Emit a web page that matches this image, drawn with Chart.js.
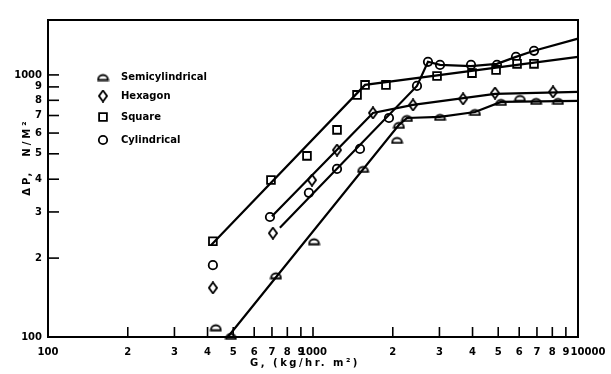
<!DOCTYPE html>
<html><head><meta charset="utf-8">
<script src="https://cdn.jsdelivr.net/npm/chart.js@4.4.0/dist/chart.umd.min.js"></script>
<style>html,body{margin:0;padding:0;background:#fff}</style>
</head><body>
<canvas id="c" width="611" height="374"></canvas>
<script>
// ---- data ----
const xTickValues = [100,200,300,400,500,600,700,800,900,1000,2000,3000,4000,5000,6000,7000,8000,9000,10000];
const xTickLabels = ['100','2','3','4','5','6','7','8','9','1000','2','3','4','5','6','7','8','9','\u2003\u200310000'];
const yTickValues = [100,200,300,400,500,600,700,800,900,1000];
const yTickLabels = ['100','2','3','4','5','6','7','8','9','1000'];
const seriesNames = ['Semicylindrical','Hexagon','Square','Cylindrical'];
const xTitle = 'G, (kg/hr. m\u00B2)';
const yTitle = '\u0394P,  N/M\u00B2';

// measured points
const semiX = [430, 490, 725, 1009, 1545, 2075, 2111, 2263, 3015, 4086, 5120, 6039, 6950, 8404];
const semiY = [109, 101, 172, 232, 438, 565, 645, 685, 692, 722, 789, 817, 796, 796];
const hexX  = [419, 706, 991, 1232, 1684, 2385, 3684, 4863, 8050];
const hexY  = [154, 249, 397, 517, 716, 768, 810, 853, 861];
const sqX   = [419, 694, 949, 1232, 1466, 1572, 1885, 2938, 3981, 4907, 5888, 6823];
const sqY   = [232, 397, 491, 617, 839, 916, 916, 990, 1016, 1045, 1102, 1102];
const cylX  = [419, 688, 965, 1232, 1504, 1935, 2468, 2716, 3015, 3947, 4945, 5834, 6823];
const cylY  = [188, 287, 355, 438, 522, 685, 908, 1122, 1092, 1092, 1092, 1172, 1236];

// drawn fit lines
const semiLineX = [477, 2111, 2263, 3015, 4086, 5120, 10000];
const semiLineY = [100, 645, 685, 692, 722, 789, 796];
const hexLineX  = [700, 1684, 2385, 4863, 10000];
const hexLineY  = [289, 716, 768, 846, 861];
const sqLineX   = [412, 1572, 10000];
const sqLineY   = [224, 916, 1172];
const cylLineX  = [750, 2468, 2716, 3015, 3947, 4945, 5834, 6823, 10000];
const cylLineY  = [261, 908, 1122, 1092, 1081, 1102, 1172, 1236, 1375];

const xMin = 100, xMax = 10000, yMin = 100, yMax = 1620;

// ---- marker shapes ----
function halfDisc(){
  const c = document.createElement('canvas'); c.width = 13; c.height = 9;
  const g = c.getContext('2d');
  g.lineWidth = 1.8; g.strokeStyle = '#000'; g.fillStyle = '#fff';
  g.beginPath(); g.moveTo(1.5,7.5); g.arc(6.5,7.5,5,Math.PI,0,false); g.closePath();
  g.fill(); g.stroke(); return c;
}
function tallDiamond(){
  const c = document.createElement('canvas'); c.width = 10; c.height = 13;
  const g = c.getContext('2d');
  g.lineWidth = 1.8; g.strokeStyle = '#000'; g.fillStyle = '#fff';
  g.beginPath(); g.moveTo(5,1); g.lineTo(9,6.5); g.lineTo(5,12); g.lineTo(1,6.5); g.closePath();
  g.fill(); g.stroke(); return c;
}
const semiStyle = halfDisc();
const hexStyle = tallDiamond();
const markerStyles = [
  {pointStyle: semiStyle, radius: 5},
  {pointStyle: hexStyle, radius: 5},
  {pointStyle: 'rect', radius: 5.5},
  {pointStyle: 'circle', radius: 4.2}
];

const pts = (xs, ys) => xs.map((x, i) => ({x, y: ys[i]}));
const lineDs = (xs, ys) => ({data: pts(xs, ys), showLine: true, pointRadius: 0, borderColor: '#000', borderWidth: 2.2, tension: 0, clip: false});
const markDs = (xs, ys, k) => ({data: pts(xs, ys), showLine: false, pointStyle: markerStyles[k].pointStyle,
  pointRadius: markerStyles[k].radius, pointBorderColor: '#000', pointBackgroundColor: '#fff', pointBorderWidth: 1.8, clip: false});

const frame = {
  id: 'frame',
  afterDraw(chart){
    const ctx = chart.ctx, a = chart.chartArea, xs = chart.scales.x, ys = chart.scales.y;
    ctx.save();
    ctx.strokeStyle = '#000'; ctx.lineWidth = 2;
    ctx.strokeRect(a.left, a.top, a.right - a.left, a.bottom - a.top);
    ctx.lineWidth = 1.6;
    xTickValues.forEach(v => {
      if (v <= xMin || v >= xMax) return;
      const p = xs.getPixelForValue(v);
      ctx.beginPath(); ctx.moveTo(p, a.bottom); ctx.lineTo(p, a.bottom - 10); ctx.stroke();
    });
    yTickValues.forEach(v => {
      if (v <= yMin) return;
      const p = ys.getPixelForValue(v);
      ctx.beginPath(); ctx.moveTo(a.left, p); ctx.lineTo(a.left + 11, p); ctx.stroke();
    });
    // titles
    ctx.fillStyle = '#000';
    ctx.font = 'bold 10px "DejaVu Sans"';
    ctx.textAlign = 'center'; ctx.textBaseline = 'middle';
    try { ctx.letterSpacing = '2.5px'; } catch(e) {}
    ctx.fillText(xTitle, 305, 363);
    ctx.save(); ctx.translate(27, 157); ctx.rotate(-Math.PI/2);
    try { ctx.letterSpacing = '3px'; } catch(e) {}
    ctx.fillText(yTitle, 0, 0); ctx.restore();
    try { ctx.letterSpacing = '0px'; } catch(e) {}
    // legend
    const rows = [77, 96, 117, 140];
    ctx.textAlign = 'left';
    seriesNames.forEach((name, k) => {
      const y = rows[k];
      ctx.fillStyle = '#fff'; ctx.strokeStyle = '#000'; ctx.lineWidth = 1.8;
      Chart.helpers.drawPoint(ctx, {pointStyle: markerStyles[k].pointStyle, radius: markerStyles[k].radius, borderWidth: 1.8, rotation: 0}, 103, y);
      ctx.fillStyle = '#000';
      ctx.fillText(name, 121, y);
    });
    ctx.restore();
  }
};

Chart.defaults.font.family = '"DejaVu Sans", sans-serif';
Chart.defaults.font.size = 10;
Chart.defaults.font.weight = 'bold';
Chart.defaults.color = '#000';

new Chart(document.getElementById('c'), {
  type: 'scatter',
  data: {
    datasets: [
      lineDs(semiLineX, semiLineY),
      lineDs(hexLineX, hexLineY),
      lineDs(sqLineX, sqLineY),
      lineDs(cylLineX, cylLineY),
      markDs(semiX, semiY, 0),
      markDs(hexX, hexY, 1),
      markDs(sqX, sqY, 2),
      markDs(cylX, cylY, 3)
    ]
  },
  options: {
    responsive: false,
    animation: false,
    events: [],
    layout: {padding: {left: 12, top: 20, right: 33, bottom: 0}},
    plugins: {legend: {display: false}, tooltip: {enabled: false}},
    scales: {
      x: {
        type: 'logarithmic', min: xMin, max: xMax,
        grid: {display: false, drawTicks: false}, border: {display: false},
        afterBuildTicks: s => { s.ticks = xTickValues.map(v => ({value: v})); },
        afterFit: s => { s.height = 37; s.paddingLeft = 0; s.paddingRight = 0; },
        ticks: {autoSkip: false, maxRotation: 0, padding: 9, callback: (v, i) => xTickLabels[i]}
      },
      y: {
        type: 'logarithmic', min: yMin, max: yMax,
        grid: {display: false, drawTicks: false}, border: {display: false},
        afterBuildTicks: s => { s.ticks = yTickValues.map(v => ({value: v})); },
        afterFit: s => { s.width = 36; s.paddingTop = 0; s.paddingBottom = 0; },
        ticks: {autoSkip: false, padding: 6, callback: (v, i) => yTickLabels[i]}
      }
    }
  },
  plugins: [frame]
});
</script>
</body></html>
